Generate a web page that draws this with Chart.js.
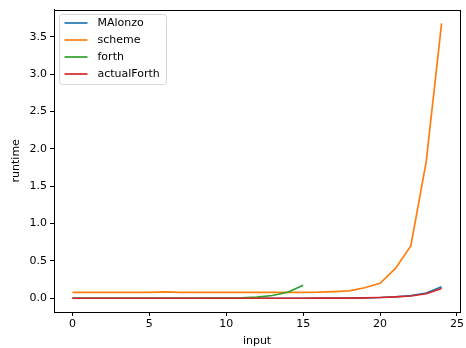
<!DOCTYPE html>
<html>
<head>
<meta charset="utf-8">
<script src="https://cdn.jsdelivr.net/npm/chart.js@4"></script>
<style>
  html, body { margin: 0; padding: 0; background: #fff; }
  #wrap { width: 466px; height: 348px; }
</style>
</head>
<body>
<div id="wrap"><canvas id="myChart" width="466" height="348"></canvas></div>
<script>
// input values
var inputs = [0,1,2,3,4,5,6,7,8,9,10,11,12,13,14,15,16,17,18,19,20,21,22,23,24];
// runtimes
var malonzo = [0,0,0,0,0,0,0,0,0,0,0,0,0,0,0,0,0.001,0.002,0.003,0.006,0.01,0.02,0.035,0.07,0.155];
var scheme = [0.08,0.08,0.08,0.08,0.08,0.08,0.085,0.08,0.08,0.08,0.08,0.08,0.08,0.08,0.08,0.08,0.082,0.09,0.1,0.14,0.2,0.4,0.7,1.83,3.68];
var forth = [0,0,0,0,0,0,0,0,0,0.001,0.003,0.007,0.016,0.037,0.08,0.175];
var actualForth = [0,0,0,0,0,0,0,0,0,0,0,0,0,0,0,0,0.001,0.002,0.003,0.005,0.01,0.018,0.03,0.06,0.13];

var xTicks = [0,5,10,15,20,25];
var yTicks = [0.0,0.5,1.0,1.5,2.0,2.5,3.0,3.5];

var seriesNames = ["MAlonzo","scheme","forth","actualForth"];
var seriesColors = ["#1f77b4","#ff7f0e","#2ca02c","#d62728"];
var seriesData = [malonzo, scheme, forth, actualForth];

var FONT = "'DejaVu Sans', sans-serif";

function toPoints(arr) {
  var pts = [];
  for (var i = 0; i < arr.length; i++) {
    pts.push({x: inputs[i], y: arr[i]});
  }
  return pts;
}

var datasets = [];
for (var i = 0; i < seriesNames.length; i++) {
  datasets.push({
    label: seriesNames[i],
    data: toPoints(seriesData[i]),
    borderColor: seriesColors[i],
    backgroundColor: seriesColors[i],
    borderWidth: 1.7,
    pointRadius: 0,
    tension: 0,
    fill: false,
    order: seriesNames.length - i // 後のシリーズを上に描く
  });
}

// 枠線（上と右）と凡例を描くプラグイン
var framePlugin = {
  id: 'frame',
  afterDraw: function(chart) {
    var ctx = chart.ctx;
    var a = chart.chartArea;
    ctx.save();
    ctx.strokeStyle = '#000';
    ctx.lineWidth = 1;
    ctx.strokeRect(Math.round(a.left) + 0.5, Math.round(a.top) + 0.5,
      Math.round(a.right - a.left), Math.round(a.bottom - a.top));

    // 凡例
    var bx = a.left + 5.5, by = 14.5, bw = 107, bh = 70;
    ctx.beginPath();
    ctx.roundRect(bx, by, bw, bh, 3);
    ctx.fillStyle = 'rgba(255,255,255,0.8)';
    ctx.fill();
    ctx.strokeStyle = '#d6d6d6';
    ctx.stroke();
    ctx.font = '11px ' + FONT;
    ctx.textBaseline = 'middle';
    ctx.fillStyle = '#000';
    for (var i = 0; i < seriesNames.length; i++) {
      var ly = 23 + i * 17;
      ctx.beginPath();
      ctx.moveTo(bx + 5, ly);
      ctx.lineTo(bx + 28, ly);
      ctx.strokeStyle = seriesColors[i];
      ctx.lineWidth = 1.7;
      ctx.stroke();
      ctx.fillText(seriesNames[i], bx + 38, ly + 0.5);
    }
    ctx.restore();
  }
};

var ctx = document.getElementById('myChart').getContext('2d');
var myChart = new Chart(ctx, {
  type: 'line',
  data: { datasets: datasets },
  options: {
    responsive: false,
    animation: false,
    layout: { padding: { left: 0, top: 8, right: 4, bottom: 0 } },
    plugins: { legend: { display: false }, tooltip: { enabled: false } },
    scales: {
      x: {
        type: 'linear',
        min: -1.2,
        max: 25.2,
        afterBuildTicks: function(scale) {
          scale.ticks = xTicks.map(function(v) { return {value: v}; });
        },
        afterFit: function(scale) { scale.height = 36; },
        grid: { display: true, drawOnChartArea: false, drawTicks: true, tickLength: 4, color: '#000' },
        border: { display: true, color: '#000' },
        ticks: { color: '#000', font: { family: FONT, size: 11 }, padding: 2, maxRotation: 0 },
        title: { display: true, text: 'input', color: '#000', font: { family: FONT, size: 11 }, padding: { top: 0, bottom: 0 } }
      },
      y: {
        type: 'linear',
        min: -0.184,
        max: 3.864,
        afterBuildTicks: function(scale) {
          scale.ticks = yTicks.map(function(v) { return {value: v}; });
        },
        afterFit: function(scale) { scale.width = 54; },
        grid: { display: true, drawOnChartArea: false, drawTicks: true, tickLength: 4, color: '#000' },
        border: { display: true, color: '#000' },
        ticks: {
          color: '#000', font: { family: FONT, size: 11 }, padding: 3,
          callback: function(v) { return Number(v).toFixed(1); }
        },
        title: { display: true, text: 'runtime', color: '#000', font: { family: FONT, size: 11 }, padding: { top: 10, bottom: 0 } }
      }
    }
  },
  plugins: [framePlugin]
});
</script>
</body>
</html>
